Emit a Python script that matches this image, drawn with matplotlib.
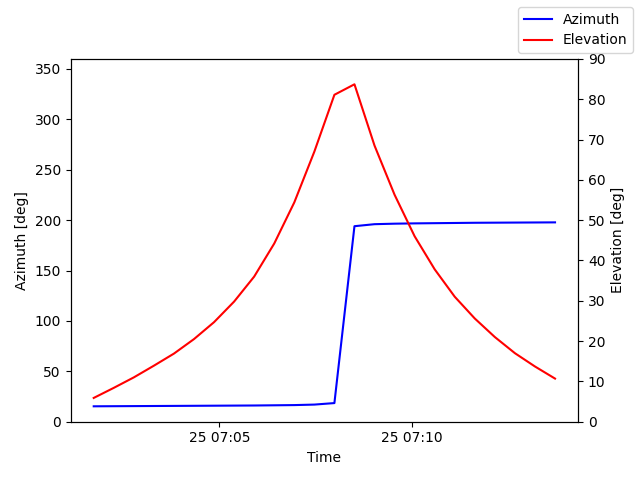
import numpy as np
import matplotlib
matplotlib.use("Agg")
import matplotlib.pyplot as plt
from datetime import datetime, timedelta

# Pass samples
start = datetime(2024, 1, 25, 7, 1, 44)
step_s = 31.3
elevation = [5.9, 8.4, 11.0, 13.9, 16.9, 20.5, 24.7, 29.8, 36.0, 44.2, 54.4, 67.0, 81.1,
             83.7, 68.5, 56.3, 46.0, 37.8, 31.0, 25.6, 21.0, 17.0, 13.7, 10.7]
azimuth = [15.3, 15.4, 15.5, 15.6, 15.7, 15.8, 15.9, 16.0, 16.1, 16.3, 16.5, 17.0, 18.5,
           194.0, 196.0, 196.5, 196.8, 197.0, 197.2, 197.4, 197.5, 197.6, 197.7, 197.8]
times = [start + timedelta(seconds=step_s * i) for i in range(len(elevation))]

fig, ax1 = plt.subplots(figsize=(6.4, 4.8))
ax2 = ax1.twinx()
ax1.plot(times, azimuth, color="blue", label="Azimuth")
ax2.plot(times, elevation, color="red", label="Elevation")
ax1.set_ylim(0, 360)
ax2.set_ylim(0, 90)
ax1.set_xlabel("Time")
ax1.set_ylabel("Azimuth [deg]")
ax2.set_ylabel("Elevation [deg]")
fig.legend(loc="upper right")
fig.tight_layout(rect=(0, 0, 1, 0.92))
fig.savefig("out.png", dpi=100)
